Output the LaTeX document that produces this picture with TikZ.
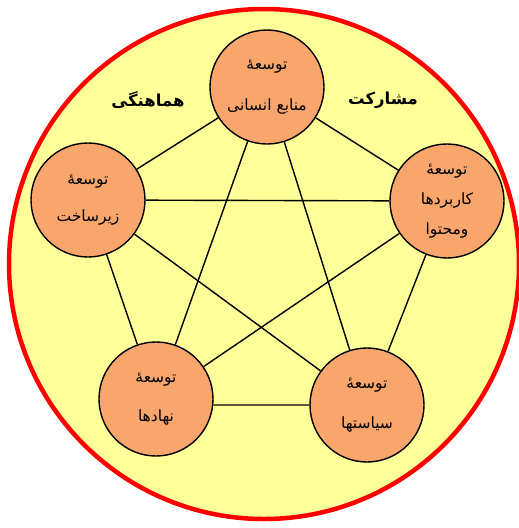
\documentclass[tikz,border=0pt]{standalone}
\usepackage{fontspec}
\newfontfamily\arabicfont[Script=Arabic]{DejaVu Sans}
\TeXXeTstate=1
\definecolor{bigfill}{HTML}{FFFF99}
\definecolor{bubblefill}{HTML}{F9A66C}
\definecolor{rimred}{HTML}{FF0000}
\begin{document}
\begin{tikzpicture}[x=1pt,y=-1pt,
  bubble/.style={circle, draw=black, line width=1.4pt, fill=bubblefill, minimum size=114pt, inner sep=0pt,
    align=center, font=\arabicfont\fontsize{15.5}{#1}\selectfont},
  bubble/.default=40pt,
  link/.style={draw=black, line width=1.4pt},
  heading/.style={font=\arabicfont\bfseries\fontsize{16.5}{18}\selectfont, inner sep=0pt}]
\useasboundingbox (0,0) rectangle (519,528);
\draw[rimred, line width=4.5pt, fill=bigfill] (264,264) circle[radius=255];
\node[bubble=41pt] (top) at (267,87) {\beginR توسعهٔ\endR\\\beginR منابع انسانی\endR};
\node[bubble=37pt] (left) at (88,200) {\beginR توسعهٔ\endR\\\beginR زیرساخت\endR};
\node[bubble=30pt] (right) at (447,201) {\beginR توسعهٔ\endR\\\beginR کاربردها\endR\\\beginR ومحتوا\endR};
\node[bubble=39pt] (bl) at (156,399) {\beginR توسعهٔ\endR\\\beginR نهادها\endR};
\node[bubble=40pt] (br) at (367,405) {\beginR توسعهٔ\endR\\\beginR سیاستها\endR};
\draw[link] (top) -- (left);
\draw[link] (top) -- (right);
\draw[link] (top) -- (bl);
\draw[link] (top) -- (br);
\draw[link] (left) -- (right);
\draw[link] (left) -- (bl);
\draw[link] (left) -- (br);
\draw[link] (right) -- (bl);
\draw[link] (right) -- (br);
\draw[link] (bl.-6) -- (br.180);
\node[heading] (harm) at (148,100) {\beginR هماهنگی\endR};
\node[heading] (part) at (383,100) {\beginR مشارکت\endR};
\end{tikzpicture}
\end{document}
